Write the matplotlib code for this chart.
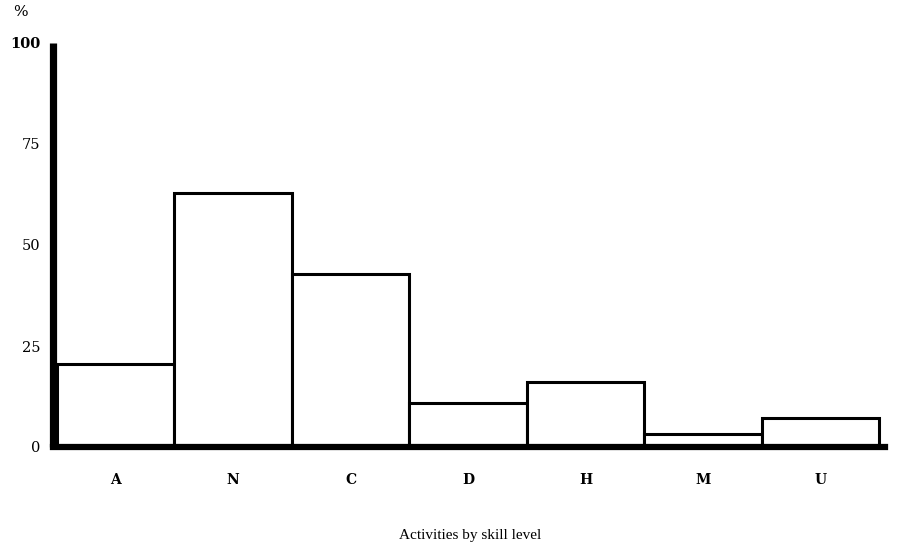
import matplotlib
matplotlib.use("Agg")
import matplotlib.pyplot as plt
import numpy as np

categories = ["A", "N", "C", "D", "H", "M", "U"]
percent = [20.5, 62.9, 42.8, 10.9, 16.1, 3.2, 7.2]
yticks = [0, 25, 50, 75, 100]

plt.rcParams['font.family'] = ['Liberation Serif', 'DejaVu Serif']

fig = plt.figure(figsize=(8.98, 5.46), dpi=100)
ax = fig.add_axes([53/898, (546-447)/546, 832/898, 404/546])

x = np.arange(len(categories)) + 0.5
ax.bar(x, percent, width=1.0, facecolor='white', edgecolor='black', linewidth=2.2)

ax.set_xlim(-0.034, 7.05)
ax.set_ylim(0, 100)
ax.set_xticks(x)
ax.set_xticklabels(categories, fontsize=10, family='DejaVu Serif', fontweight='bold')
ax.set_yticks(yticks)
ax.set_yticklabels([str(v) for v in yticks], fontsize=10.5, family='DejaVu Serif')
ax.yaxis.get_ticklabels()[-1].set_fontweight('bold')
ax.tick_params(axis='x', length=0, pad=19)
ax.tick_params(axis='y', length=0, pad=9)

for s in ['top', 'right']:
    ax.spines[s].set_visible(False)
ax.spines['left'].set_linewidth(5.2)
ax.spines['bottom'].set_linewidth(4.5)
ax.spines['left'].set_capstyle('butt')

fig.text(20/898, 1 - 12/546, "%", fontsize=11, ha='center', va='center',
         family='DejaVu Serif')
fig.text(470/898, 1 - 536/546, "Activities by skill level", fontsize=11,
         ha='center', va='center')

plt.savefig('out.png', dpi=100)
